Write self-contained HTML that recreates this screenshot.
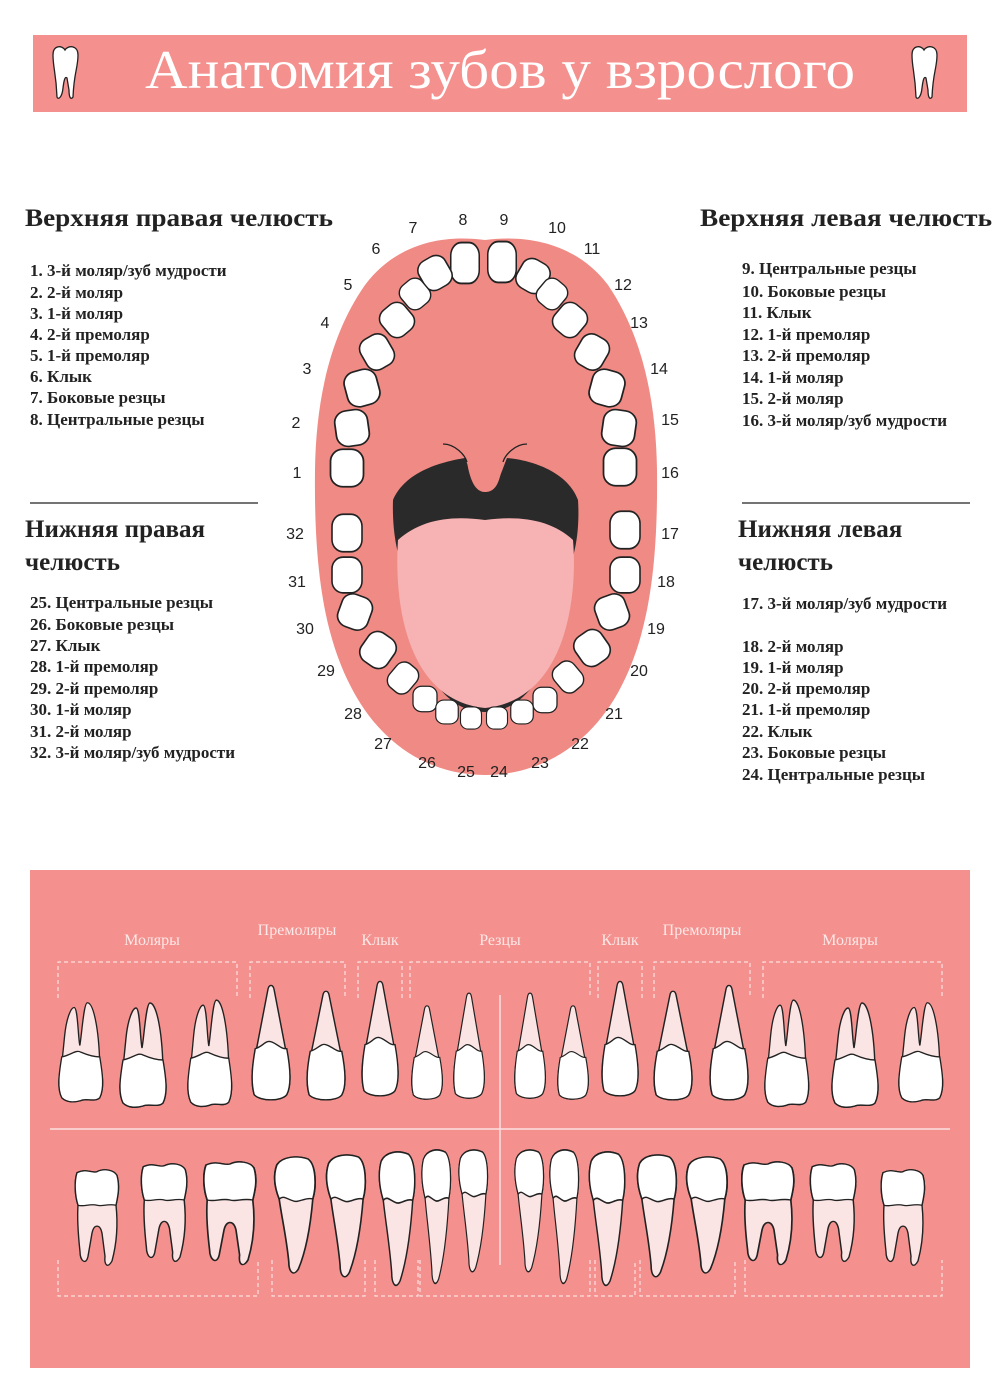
<!DOCTYPE html>
<html><head><meta charset="utf-8"><style>
html,body{margin:0;padding:0;background:#fff;}
svg{display:block}
text{font-family:"Liberation Serif","DejaVu Serif",serif;}
</style></head><body>
<svg width="1000" height="1400" viewBox="0 0 1000 1400" xmlns="http://www.w3.org/2000/svg">
<defs>
<g id="um"><path d="M5,105 C0,95 2,80 5,70 L8,40 C10,20 15,10 18,10 C22,10 22,40 24,50 C26,40 28,5 32,5 C38,5 44,30 45,70 C48,80 50,95 45,105 C40,110 30,105 25,108 C18,110 10,110 5,105Z" fill="#fbe4e4" stroke="#222" stroke-width="1.4"/><path d="M5,62 C15,60 20,54 25,57 C32,60 40,62 45,62 C48,80 50,95 45,105 C40,110 30,105 25,108 C18,110 10,110 5,105 C0,95 2,80 5,62Z" fill="#fff" stroke="#222" stroke-width="1.4"/></g>
<g id="us"><path d="M4,115 C0,100 3,80 5,75 L17,8 C18,2 22,2 23,8 L35,75 C38,85 40,105 35,115 C30,122 10,122 4,115Z" fill="#fbe4e4" stroke="#222" stroke-width="1.4"/><path d="M5,68 C12,66 15,59 20,61 C26,63 30,69 35,68 C38,85 40,105 35,115 C30,122 10,122 4,115 C0,100 3,80 5,68Z" fill="#fff" stroke="#222" stroke-width="1.4"/></g>
<g id="lm"><path d="M5,5 C15,0 20,6 25,4 C32,0 42,2 45,8 C48,20 46,30 44,40 C46,60 45,80 40,100 C36,108 32,105 33,95 L30,70 C28,60 22,60 20,70 L16,95 C14,105 8,100 8,90 C6,70 5,55 6,40 C3,30 2,15 5,5Z" fill="#fbe4e4" stroke="#222" stroke-width="1.4"/><path d="M5,5 C15,0 20,6 25,4 C32,0 42,2 45,8 C48,20 46,30 44,40 C35,38 30,42 25,40 C18,38 12,42 6,40 C3,30 2,15 5,5Z" fill="#fff" stroke="#222" stroke-width="1.4"/></g>
<g id="ls"><path d="M4,8 C8,0 20,-2 30,2 C37,8 37,30 34,42 C32,70 28,95 22,112 C18,120 14,115 14,105 C12,80 8,60 6,42 C2,30 1,18 4,8Z" fill="#fbe4e4" stroke="#222" stroke-width="1.4"/><path d="M4,8 C8,0 20,-2 30,2 C37,8 37,30 34,42 C28,40 22,46 18,44 C12,42 10,38 6,42 C2,30 1,18 4,8Z" fill="#fff" stroke="#222" stroke-width="1.4"/></g>
<g id="tt"><rect x="-15" y="-17" width="30" height="34" rx="11" fill="#fff" stroke="#222" stroke-width="1.6"/></g>
</defs>

<!-- header -->
<rect x="33" y="35" width="934" height="77" fill="#f4918e"/>
<text x="500" y="88" font-size="55" fill="#fff" text-anchor="middle" textLength="710" lengthAdjust="spacingAndGlyphs">Анатомия зубов у взрослого</text>
<path d="M53,55 C53,45 62,45 65,50 C68,45 78,45 78,55 C78,68 74,72 73,97 C71,100 69,98 69,90 L67,78 C65,76 64,80 63,88 C62,98 58,100 57,97 C56,72 53,68 53,55Z" fill="#fff" stroke="#222" stroke-width="1.3"/>
<path d="M912,55 C912,45 921,45 924,50 C927,45 937,45 937,55 C937,68 933,72 932,97 C930,100 928,98 928,90 L926,78 C924,76 923,80 922,88 C921,98 917,100 916,97 C915,72 912,68 912,55Z" fill="#fff" stroke="#222" stroke-width="1.3"/>

<g font-size="25" font-weight="bold" fill="#222">
<text x="25" y="226" textLength="308" lengthAdjust="spacingAndGlyphs">Верхняя правая челюсть</text>
<text x="700" y="226" textLength="292" lengthAdjust="spacingAndGlyphs">Верхняя левая челюсть</text>
<text x="25" y="537">Нижняя правая</text>
<text x="25" y="570">челюсть</text>
<text x="738" y="537">Нижняя левая</text>
<text x="738" y="570">челюсть</text>
</g>
<line x1="30" y1="503" x2="258" y2="503" stroke="#222" stroke-width="1.2"/>
<line x1="742" y1="503" x2="970" y2="503" stroke="#222" stroke-width="1.2"/>
<g font-size="17" font-weight="bold" fill="#222">
<text x="30" y="276">1. 3-й моляр/зуб мудрости</text>
<text x="30" y="298">2. 2-й моляр</text>
<text x="30" y="319">3. 1-й моляр</text>
<text x="30" y="340">4. 2-й премоляр</text>
<text x="30" y="361">5. 1-й премоляр</text>
<text x="30" y="382">6. Клык</text>
<text x="30" y="403">7. Боковые резцы</text>
<text x="30" y="425">8. Центральные резцы</text>
<text x="742" y="274">9. Центральные резцы</text>
<text x="742" y="297">10. Боковые резцы</text>
<text x="742" y="318">11.  Клык</text>
<text x="742" y="340">12.  1-й премоляр</text>
<text x="742" y="361">13.  2-й премоляр</text>
<text x="742" y="383">14. 1-й моляр</text>
<text x="742" y="404">15. 2-й моляр</text>
<text x="742" y="426">16. 3-й моляр/зуб мудрости</text>
<text x="30" y="608">25.  Центральные резцы</text>
<text x="30" y="630">26.  Боковые резцы</text>
<text x="30" y="651">27.  Клык</text>
<text x="30" y="672">28.  1-й премоляр</text>
<text x="30" y="694">29.  2-й премоляр</text>
<text x="30" y="715">30.  1-й моляр</text>
<text x="30" y="737">31.  2-й моляр</text>
<text x="30" y="758">32.  3-й моляр/зуб мудрости</text>
<text x="742" y="609">17.  3-й моляр/зуб мудрости</text>
<text x="742" y="652">18.  2-й моляр</text>
<text x="742" y="673">19.  1-й моляр</text>
<text x="742" y="694">20.  2-й премоляр</text>
<text x="742" y="715">21.  1-й премоляр</text>
<text x="742" y="737">22.  Клык</text>
<text x="742" y="758">23.  Боковые резцы</text>
<text x="742" y="780">24.  Центральные резцы</text>
</g>

<!-- mouth -->
<path d="M485,240 C440,234 395,245 365,285 C330,335 316,400 315,470 C314,560 322,630 350,685 C380,745 430,775 485,775 C540,775 592,745 622,685 C650,630 658,560 657,470 C656,400 642,335 608,285 C578,245 530,234 485,240Z" fill="#f08a84"/>
<path d="M393,500 C405,472 440,462 465,458 C472,475 475,490 485,492 C497,490 500,475 507,458 C532,460 568,472 578,500 C580,530 575,560 565,575 C560,660 530,712 485,712 C440,712 412,660 407,575 C397,560 392,530 393,500Z" fill="#2a2a2a"/>
<path d="M398,540 C420,520 450,515 485,520 C520,515 552,520 573,540 C578,600 565,700 485,708 C405,700 394,600 398,540Z" fill="#f7b2b3"/>
<path d="M443,444 C455,444 465,455 467,462 M527,444 C515,444 505,455 503,462" fill="none" stroke="#222" stroke-width="1.3"/>
<path d="M467,462 C470,480 475,492 485,492 C497,492 500,480 503,462" fill="#f08a84"/>

<g>
<use href="#tt" transform="translate(465,263) scale(0.95,1.2)"/>
<use href="#tt" transform="translate(502,262) scale(0.95,1.2)"/>
<use href="#tt" transform="translate(435,273) rotate(-30) scale(1,0.95)"/>
<use href="#tt" transform="translate(533,276) rotate(30) scale(1,0.95)"/>
<use href="#tt" transform="translate(415,294) rotate(-40) scale(0.9,0.85)"/>
<use href="#tt" transform="translate(552,294) rotate(40) scale(0.9,0.85)"/>
<use href="#tt" transform="translate(397,320) rotate(-40) scale(1,0.95)"/>
<use href="#tt" transform="translate(570,320) rotate(40) scale(1,0.95)"/>
<use href="#tt" transform="translate(377,352) rotate(-30)"/>
<use href="#tt" transform="translate(592,352) rotate(30)"/>
<use href="#tt" transform="translate(362,388) rotate(-15) scale(1.1,1.05)"/>
<use href="#tt" transform="translate(607,388) rotate(15) scale(1.1,1.05)"/>
<use href="#tt" transform="translate(352,428) rotate(-8) scale(1.1,1.05)"/>
<use href="#tt" transform="translate(619,428) rotate(8) scale(1.1,1.05)"/>
<use href="#tt" transform="translate(347,468) scale(1.1,1.1)"/>
<use href="#tt" transform="translate(620,467) scale(1.1,1.1)"/>
<use href="#tt" transform="translate(347,533) scale(1,1.1)"/>
<use href="#tt" transform="translate(625,530) scale(1,1.1)"/>
<use href="#tt" transform="translate(347,575) scale(1,1.05)"/>
<use href="#tt" transform="translate(625,575) scale(1,1.05)"/>
<use href="#tt" transform="translate(355,612) rotate(20) scale(1.05,1)"/>
<use href="#tt" transform="translate(612,612) rotate(-20) scale(1.05,1)"/>
<use href="#tt" transform="translate(378,650) rotate(35) scale(1.05,1)"/>
<use href="#tt" transform="translate(592,648) rotate(-35) scale(1.05,1)"/>
<use href="#tt" transform="translate(403,678) rotate(40) scale(0.85,0.9)"/>
<use href="#tt" transform="translate(568,677) rotate(-40) scale(0.85,0.9)"/>
<use href="#tt" transform="translate(425,699) scale(0.8,0.75)"/>
<use href="#tt" transform="translate(545,700) scale(0.8,0.75)"/>
<use href="#tt" transform="translate(447,712) scale(0.75,0.7)"/>
<use href="#tt" transform="translate(522,712) scale(0.75,0.7)"/>
<use href="#tt" transform="translate(471,718) scale(0.7,0.65)"/>
<use href="#tt" transform="translate(497,718) scale(0.7,0.65)"/>
</g>

<g font-size="16" fill="#222" text-anchor="middle" style="font-family:'Liberation Sans',sans-serif">
<text x="413" y="233" style="font-family:'Liberation Sans',sans-serif">7</text>
<text x="463" y="225" style="font-family:'Liberation Sans',sans-serif">8</text>
<text x="504" y="225" style="font-family:'Liberation Sans',sans-serif">9</text>
<text x="557" y="233" style="font-family:'Liberation Sans',sans-serif">10</text>
<text x="592" y="254" style="font-family:'Liberation Sans',sans-serif">11</text>
<text x="376" y="254" style="font-family:'Liberation Sans',sans-serif">6</text>
<text x="348" y="290" style="font-family:'Liberation Sans',sans-serif">5</text>
<text x="623" y="290" style="font-family:'Liberation Sans',sans-serif">12</text>
<text x="325" y="328" style="font-family:'Liberation Sans',sans-serif">4</text>
<text x="639" y="328" style="font-family:'Liberation Sans',sans-serif">13</text>
<text x="307" y="374" style="font-family:'Liberation Sans',sans-serif">3</text>
<text x="659" y="374" style="font-family:'Liberation Sans',sans-serif">14</text>
<text x="296" y="428" style="font-family:'Liberation Sans',sans-serif">2</text>
<text x="670" y="425" style="font-family:'Liberation Sans',sans-serif">15</text>
<text x="297" y="478" style="font-family:'Liberation Sans',sans-serif">1</text>
<text x="670" y="478" style="font-family:'Liberation Sans',sans-serif">16</text>
<text x="295" y="539" style="font-family:'Liberation Sans',sans-serif">32</text>
<text x="670" y="539" style="font-family:'Liberation Sans',sans-serif">17</text>
<text x="297" y="587" style="font-family:'Liberation Sans',sans-serif">31</text>
<text x="666" y="587" style="font-family:'Liberation Sans',sans-serif">18</text>
<text x="305" y="634" style="font-family:'Liberation Sans',sans-serif">30</text>
<text x="656" y="634" style="font-family:'Liberation Sans',sans-serif">19</text>
<text x="326" y="676" style="font-family:'Liberation Sans',sans-serif">29</text>
<text x="639" y="676" style="font-family:'Liberation Sans',sans-serif">20</text>
<text x="353" y="719" style="font-family:'Liberation Sans',sans-serif">28</text>
<text x="614" y="719" style="font-family:'Liberation Sans',sans-serif">21</text>
<text x="383" y="749" style="font-family:'Liberation Sans',sans-serif">27</text>
<text x="580" y="749" style="font-family:'Liberation Sans',sans-serif">22</text>
<text x="427" y="768" style="font-family:'Liberation Sans',sans-serif">26</text>
<text x="540" y="768" style="font-family:'Liberation Sans',sans-serif">23</text>
<text x="466" y="777" style="font-family:'Liberation Sans',sans-serif">25</text>
<text x="499" y="777" style="font-family:'Liberation Sans',sans-serif">24</text>
</g>

<!-- bottom panel -->
<rect x="30" y="870" width="940" height="498" fill="#f4918e"/>
<g font-size="16" fill="#fbe8e8" text-anchor="middle">
<text x="152" y="945">Моляры</text>
<text x="297" y="935">Премоляры</text>
<text x="380" y="945">Клык</text>
<text x="500" y="945">Резцы</text>
<text x="620" y="945">Клык</text>
<text x="702" y="935">Премоляры</text>
<text x="850" y="945">Моляры</text>
</g>
<g fill="none" stroke="#fbe0e0" stroke-width="1.2" stroke-dasharray="4,3">
<path d="M58,998 V962 H237 V998"/><path d="M250,998 V962 H345 V998"/><path d="M358,998 V962 H402 V998"/><path d="M410,998 V962 H590 V998"/>
<path d="M598,998 V962 H642 V998"/><path d="M654,998 V962 H750 V998"/><path d="M763,998 V962 H942 V998"/>
<path d="M58,1260 V1296 H258 V1260"/><path d="M272,1260 V1296 H365 V1260"/><path d="M375,1260 V1296 H418 V1260"/><path d="M420,1260 V1296 H590 V1260"/>
<path d="M595,1260 V1296 H635 V1260"/><path d="M640,1260 V1296 H735 V1260"/><path d="M745,1260 V1296 H942 V1260"/>
</g>
<line x1="50" y1="1129" x2="950" y2="1129" stroke="#fbe0e0" stroke-width="1.5"/>
<line x1="500" y1="995" x2="500" y2="1265" stroke="#fbe0e0" stroke-width="1.5"/>

<use href="#um" transform="translate(57,998) scale(0.95,0.95)"/>
<use href="#um" transform="translate(118,998) scale(1.0,1.0)"/>
<use href="#um" transform="translate(186,995) scale(0.95,1.02)"/>
<use href="#us" transform="translate(250,982) scale(1.05,0.98)"/>
<use href="#us" transform="translate(305,988) scale(1.05,0.93)"/>
<use href="#us" transform="translate(360,978) scale(1.0,0.98)"/>
<use href="#us" transform="translate(410,1003) scale(0.85,0.8)"/>
<use href="#us" transform="translate(452,990) scale(0.85,0.9)"/>
<use href="#us" transform="translate(513,990) scale(0.85,0.9)"/>
<use href="#us" transform="translate(556,1003) scale(0.85,0.8)"/>
<use href="#us" transform="translate(600,978) scale(1.0,0.98)"/>
<use href="#us" transform="translate(652,988) scale(1.05,0.93)"/>
<use href="#us" transform="translate(708,982) scale(1.05,0.98)"/>
<use href="#um" transform="translate(763,995) scale(0.95,1.02)"/>
<use href="#um" transform="translate(830,998) scale(1.0,1.0)"/>
<use href="#um" transform="translate(897,998) scale(0.95,0.95)"/>
<use href="#lm" transform="translate(72,1168) scale(1.0,0.93)"/>
<use href="#lm" transform="translate(138,1162) scale(1.05,0.95)"/>
<use href="#lm" transform="translate(200,1160) scale(1.2,1.0)"/>
<use href="#ls" transform="translate(272,1157) scale(1.2,1.0)"/>
<use href="#ls" transform="translate(324,1155) scale(1.15,1.05)"/>
<use href="#ls" transform="translate(377,1152) scale(1.05,1.15)"/>
<use href="#ls" transform="translate(420,1150) scale(0.85,1.15)"/>
<use href="#ls" transform="translate(457,1150) scale(0.85,1.05)"/>
<use href="#ls" transform="translate(513,1150) scale(0.85,1.05)"/>
<use href="#ls" transform="translate(548,1150) scale(0.85,1.15)"/>
<use href="#ls" transform="translate(587,1152) scale(1.05,1.15)"/>
<use href="#ls" transform="translate(635,1155) scale(1.15,1.05)"/>
<use href="#ls" transform="translate(684,1157) scale(1.2,1.0)"/>
<use href="#lm" transform="translate(738,1160) scale(1.2,1.0)"/>
<use href="#lm" transform="translate(807,1162) scale(1.05,0.95)"/>
<use href="#lm" transform="translate(878,1168) scale(1.0,0.93)"/>
</svg>
</body></html>
